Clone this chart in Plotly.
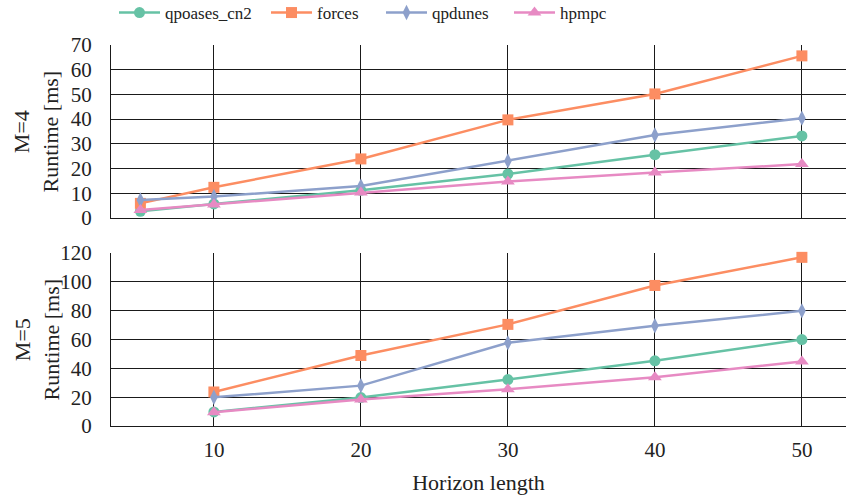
import plotly.graph_objects as go
from plotly.subplots import make_subplots

series_names = ["qpoases_cn2", "forces", "qpdunes", "hpmpc"]
colors = ["#66c2a5", "#fc8d62", "#8da0cb", "#e78ac3"]
symbols = ["circle", "square", "diamond-tall", "triangle-up"]
marker_sizes = [11, 11, 11, 12]

horizon_m4 = [5, 10, 20, 30, 40, 50]
qpoases_m4 = [2.7, 5.7, 11.2, 17.8, 25.6, 33.2]
forces_m4 = [5.9, 12.4, 23.9, 39.7, 50.2, 65.6]
qpdunes_m4 = [7.3, 8.7, 12.9, 23.1, 33.6, 40.4]
hpmpc_m4 = [3.2, 5.5, 10.3, 14.8, 18.4, 21.8]

horizon_m5 = [10, 20, 30, 40, 50]
qpoases_m5 = [9.8, 19.7, 32.2, 45.2, 60.0]
forces_m5 = [23.6, 48.9, 70.5, 97.5, 117.0]
qpdunes_m5 = [19.9, 28.0, 57.7, 69.5, 79.9]
hpmpc_m5 = [9.6, 18.4, 25.5, 33.9, 44.7]

m4_data = [qpoases_m4, forces_m4, qpdunes_m4, hpmpc_m4]
m5_data = [qpoases_m5, forces_m5, qpdunes_m5, hpmpc_m5]

x_ticks = [10, 20, 30, 40, 50]
y_ticks_m4 = [0, 10, 20, 30, 40, 50, 60, 70]
y_ticks_m5 = [0, 20, 40, 60, 80, 100, 120]

FONT = "'Liberation Serif', 'DejaVu Serif', serif"
legend_ids = ["legend", "legend2", "legend3", "legend4"]
legend_x_px = [114, 266, 381, 509]

fig = make_subplots(rows=2, cols=1, shared_xaxes=False, vertical_spacing=0.092)

for i, name in enumerate(series_names):
    fig.add_trace(go.Scatter(
        x=horizon_m4, y=m4_data[i], name=name, mode="lines+markers",
        line=dict(color=colors[i], width=2.5),
        marker=dict(symbol=symbols[i], size=marker_sizes[i], color=colors[i]),
        legendgroup=name, showlegend=True, legend=legend_ids[i],
        cliponaxis=False), row=1, col=1)
    fig.add_trace(go.Scatter(
        x=horizon_m5, y=m5_data[i], name=name, mode="lines+markers",
        line=dict(color=colors[i], width=2.5),
        marker=dict(symbol=symbols[i], size=marker_sizes[i], color=colors[i]),
        legendgroup=name, showlegend=False, cliponaxis=False), row=2, col=1)

grid = dict(showgrid=True, gridcolor="#1a1a1a", gridwidth=1, zeroline=False,
            showline=True, linecolor="#1a1a1a", linewidth=1.2, ticks="",
            tickfont=dict(family=FONT, size=21, color="#222"))

fig.update_xaxes(range=[3, 53], tickvals=x_ticks, domain=[0, 1], **grid)
fig.update_xaxes(showticklabels=False, row=1, col=1)
fig.update_xaxes(ticklabelstandoff=5, title=dict(text="Horizon length",
                 font=dict(family=FONT, size=22, color="#222"), standoff=13), row=2, col=1)
fig.update_yaxes(ticklabelstandoff=14, **grid)
fig.update_yaxes(range=[0, 70], tickvals=y_ticks_m4, domain=[0.546, 1], row=1, col=1)
fig.update_yaxes(range=[0, 120], tickvals=y_ticks_m5, domain=[0, 0.454], row=2, col=1)

for yc, txt in [(0.773, "M=4<br>Runtime [ms]"), (0.227, "M=5<br>Runtime [ms]")]:
    fig.add_annotation(text=txt, xref="paper", yref="paper", x=-0.1007, y=yc,
                       xanchor="center", yanchor="middle", textangle=-90,
                       showarrow=False, font=dict(family=FONT, size=22, color="#222"))

legend_style = dict(orientation="h", xref="container", yref="container",
                    xanchor="left", yanchor="middle", y=1 - 13 / 501,
                    font=dict(family=FONT, size=17, color="#222"), itemwidth=41,
                    bgcolor="rgba(0,0,0,0)")

layout_legends = {}
for lid, px in zip(legend_ids, legend_x_px):
    layout_legends[lid] = dict(legend_style, x=px / 846)

fig.update_layout(
    width=846, height=501,
    font=dict(family=FONT, color="#222"),
    margin=dict(l=111, r=0, t=45, b=75, autoexpand=False),
    plot_bgcolor="white", paper_bgcolor="white",
    **layout_legends,
)

fig.write_html("out.html")
